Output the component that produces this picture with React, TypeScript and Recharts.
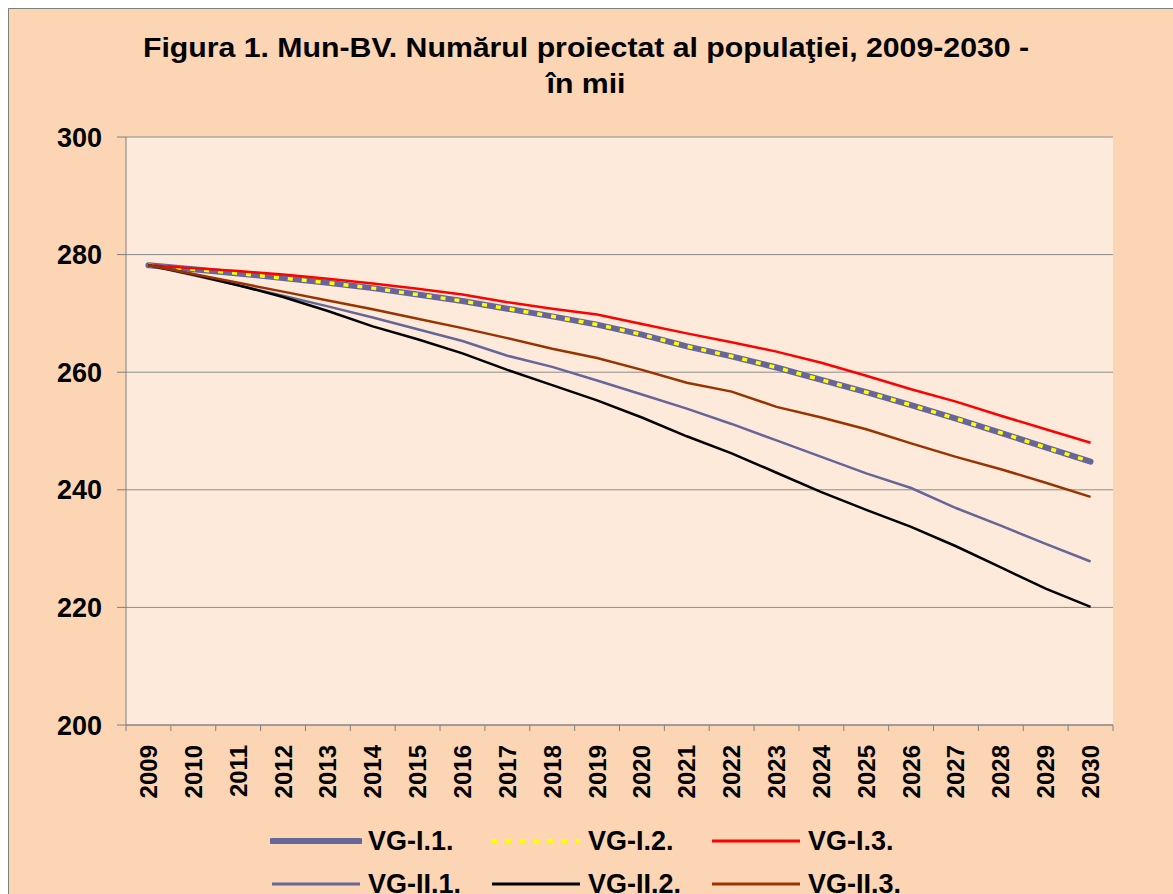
import React from 'react';
import { LineChart, Line, XAxis, YAxis, CartesianGrid, Legend } from 'recharts';

const years = ['2009','2010','2011','2012','2013','2014','2015','2016','2017','2018','2019','2020','2021','2022','2023','2024','2025','2026','2027','2028','2029','2030'];

const vgI1 = [278.2, 277.5, 276.8, 276.0, 275.2, 274.3, 273.2, 272.1, 270.8, 269.5, 268.1, 266.4, 264.4, 262.7, 260.8, 258.7, 256.6, 254.4, 252.1, 249.7, 247.2, 244.8];
const vgI2 = [278.2, 277.5, 276.8, 276.0, 275.2, 274.3, 273.2, 272.1, 270.8, 269.5, 268.1, 266.4, 264.4, 262.7, 260.8, 258.7, 256.6, 254.4, 252.1, 249.7, 247.2, 244.8];
const vgI3 = [278.2, 277.7, 277.2, 276.6, 275.9, 275.1, 274.2, 273.2, 271.9, 270.8, 269.8, 268.2, 266.6, 265.1, 263.5, 261.6, 259.4, 257.1, 255.0, 252.6, 250.3, 248.0];
const vgII1 = [278.2, 276.5, 274.8, 273.0, 271.2, 269.3, 267.3, 265.3, 262.8, 260.9, 258.6, 256.2, 253.8, 251.2, 248.4, 245.6, 242.8, 240.3, 236.9, 233.9, 230.8, 227.8];
const vgII2 = [278.2, 276.6, 274.8, 272.8, 270.4, 267.8, 265.6, 263.2, 260.4, 257.8, 255.2, 252.3, 249.1, 246.2, 242.9, 239.6, 236.6, 233.7, 230.4, 226.8, 223.2, 220.1];
const vgII3 = [278.2, 276.7, 275.2, 273.7, 272.2, 270.7, 269.1, 267.5, 265.8, 264.0, 262.4, 260.4, 258.2, 256.7, 254.1, 252.3, 250.3, 247.9, 245.6, 243.5, 241.2, 238.8];

const yTicks = [200, 220, 240, 260, 280, 300];

const seriesNames = ['VG-I.1.', 'VG-I.2.', 'VG-I.3.', 'VG-II.1.', 'VG-II.2.', 'VG-II.3.'];
const seriesValues = [vgI1, vgI2, vgI3, vgII1, vgII2, vgII3];

const seriesStyles = [
  { color: '#666699', width: 6, dash: undefined as string | undefined, legendWidth: 6 },
  { color: '#FFFF00', width: 3.5, dash: '5 9', legendWidth: 4 },
  { color: '#FF0000', width: 2.5, dash: undefined, legendWidth: 3 },
  { color: '#666699', width: 2.5, dash: undefined, legendWidth: 3 },
  { color: '#000000', width: 2.5, dash: undefined, legendWidth: 3 },
  { color: '#993300', width: 2.5, dash: undefined, legendWidth: 3 },
];

const data = years.map((y, i) => {
  const row: Record<string, string | number> = { year: y };
  seriesNames.forEach((n, k) => { row[n] = seriesValues[k][i]; });
  return row;
});

const FONT = '"Liberation Sans", Arial, sans-serif';

const XTick = (props: any) => {
  const { x, y, payload, index, visibleTicksCount } = props;
  const half = payload && payload.offset ? payload.offset : 22.4;
  const last = index === (visibleTicksCount ?? years.length) - 1;
  return (
    <g>
      <line x1={x - half} x2={x - half} y1={y - 8} y2={y - 2} stroke="#808080" strokeWidth={1} />
      {last && <line x1={x + half} x2={x + half} y1={y - 8} y2={y - 2} stroke="#808080" strokeWidth={1} />}
      <text
        x={x}
        y={y + 12}
        transform={`rotate(-90 ${x} ${y + 12})`}
        textAnchor="end"
        dominantBaseline="central"
        fontFamily={FONT}
        fontWeight="bold"
        fontSize={24}
        fill="#000"
      >
        {payload.value}
      </text>
    </g>
  );
};

const LegendContent = () => {
  const rows = [[0, 1, 2], [3, 4, 5]];
  return (
    <div style={{ position: 'relative', width: 1164, height: 90 }}>
      {rows.map((r, ri) => (
        <div key={ri} style={{ position: 'absolute', top: ri * 43, left: 261, height: 40, display: 'flex' }}>
          {r.map((k) => {
            const s = seriesStyles[k];
            return (
              <div key={k} style={{ width: 220, display: 'flex', alignItems: 'center' }}>
                <svg width={92} height={20} style={{ display: 'block' }}>
                  <line x1={2} x2={90} y1={10} y2={10} stroke={s.color} strokeWidth={s.legendWidth}
                    strokeDasharray={s.dash} strokeLinecap={k === 0 ? 'round' : 'butt'} />
                </svg>
                <span style={{ marginLeft: 6, fontFamily: FONT, fontWeight: 'bold', fontSize: 27, color: '#000', lineHeight: '40px' }}>
                  {seriesNames[k]}
                </span>
              </div>
            );
          })}
        </div>
      ))}
    </div>
  );
};

export default function App() {
  return (
    <div style={{ position: 'absolute', left: 8, top: 8, width: 1165, height: 886, background: '#FCD5B5', borderTop: '1px solid #808080', borderLeft: '1px solid #808080', boxSizing: 'border-box', overflow: 'hidden' }}>
      <div style={{ position: 'absolute', top: 21, left: 0, width: 1154, textAlign: 'center', fontFamily: FONT, fontWeight: 'bold', fontSize: 27, lineHeight: '36px', color: '#000', transform: 'scaleX(1.12)', transformOrigin: '577px 0' }}>
        <div>Figura 1. Mun-BV. Numărul proiectat al populaţiei, 2009-2030 -</div>
        <div>în mii</div>
      </div>
      <LineChart width={1164} height={885} data={data} margin={{ top: 128, right: 60, bottom: 69, left: 0 }}>
        <CartesianGrid vertical={false} stroke="#8C8C8C" strokeWidth={1} fill="#FDEADA" />
        <XAxis
          dataKey="year"
          scale="band"
          interval={0}
          height={100}
          axisLine={{ stroke: '#808080', strokeWidth: 1 }}
          tickLine={false}
          tick={<XTick />}
        />
        <YAxis
          domain={[200, 300]}
          ticks={yTicks}
          width={117}
          axisLine={{ stroke: '#808080', strokeWidth: 1 }}
          tickLine={{ stroke: '#808080' }}
          tickSize={9}
          tickMargin={15}
          tick={{ fontFamily: FONT, fontWeight: 'bold', fontSize: 27, fill: '#000' }}
          allowDataOverflow
        />
        <Legend
          layout="horizontal"
          verticalAlign="middle"
          align="center"
          content={<LegendContent />}
          wrapperStyle={{ position: 'absolute', top: 812, left: 0, width: 1164, height: 90 }}
        />
        {seriesNames.map((n, k) => (
          <Line
            key={n}
            type="linear"
            dataKey={n}
            name={n}
            stroke={seriesStyles[k].color}
            strokeWidth={seriesStyles[k].width}
            strokeDasharray={seriesStyles[k].dash}
            strokeLinecap={k === 0 ? 'round' : 'butt'}
            dot={false}
            activeDot={false}
            isAnimationActive={false}
          />
        ))}
      </LineChart>
    </div>
  );
}
